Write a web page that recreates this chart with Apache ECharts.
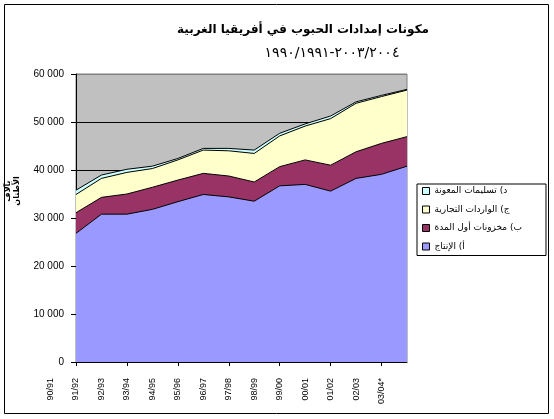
<!DOCTYPE html>
<html>
<head>
<meta charset="utf-8">
<script src="https://cdn.jsdelivr.net/npm/echarts@6/dist/echarts.min.js"></script>
<style>
    html, body { margin: 0; padding: 0; background: #fff; }
    #chart-container { width: 554px; height: 419px; }
</style>
</head>
<body>
<div id="chart-container"></div>
<script>
// seasons, the label row is one step to the left of the data, as in the original sheet
var seasons = ['90/91', '91/92', '92/93', '93/94', '94/95', '95/96', '96/97',
    '97/98', '98/99', '99/00', '00/01', '01/02', '02/03', '03/04*'];
var labelRow = seasons.concat(['']);

// thousand tonnes
var production = [26800, 30800, 30800, 31800, 33400, 34900, 34400, 33500, 36700, 37000, 35600, 38250, 39100, 40800];
var openingStocks = [4300, 3500, 4200, 4600, 4500, 4400, 4350, 4000, 4000, 5100, 5400, 5550, 6450, 6150];
var commercialImports = [3800, 3950, 4500, 3900, 4200, 4850, 5250, 5950, 6400, 7050, 9700, 10100, 9750, 9700];
var foodAid = [900, 700, 650, 500, 300, 350, 500, 700, 550, 450, 550, 300, 250, 150];

var names = ['أ) الإنتاج', 'ب) مخزونات أول المدة', 'ج) الواردات التجارية', 'د) تسليمات المعونة'];
var colors = ['#9999FF', '#993366', '#FFFFCC', '#CCFFFF'];
var values = [production, openingStocks, commercialImports, foodAid];

var dom = document.getElementById('chart-container');
var myChart = echarts.init(dom, null, { renderer: 'canvas' });

var series = values.map(function (v, i) {
    return {
        name: names[i],
        type: 'line',
        stack: 'total',
        data: v,
        showSymbol: false,
        symbol: 'none',
        color: colors[i],
        itemStyle: { color: colors[i] },
        lineStyle: { color: '#000', width: 1 },
        areaStyle: { color: colors[i], opacity: 1 },
        animation: false
    };
});

var option = {
    animation: false,
    title: [
        {
            text: 'مكونات إمدادات الحبوب في أفريقيا الغربية',
            left: 298,
            top: 19,
            textAlign: 'center',
            textStyle: { fontFamily: 'DejaVu Sans', fontSize: 12, fontWeight: 'bold', color: '#000' }
        },
        {
            // keep the periods in left-to-right order
            text: '\u202D١٩٩٠/١٩٩١-٢٠٠٣/٢٠٠٤\u202C',
            left: 327,
            top: 41,
            textAlign: 'center',
            textStyle: { fontFamily: 'DejaVu Sans', fontSize: 14, fontWeight: 'normal', color: '#000' }
        }
    ],
    legend: {
        orient: 'vertical',
        left: 417,
        top: 184,
        data: names.slice().reverse(),
        icon: 'rect',
        itemWidth: 7,
        itemHeight: 7,
        itemGap: 6.5,
        itemStyle: { borderColor: '#000', borderWidth: 1 },
        padding: [1, 24, 3, 5],
        borderColor: '#000',
        borderWidth: 1,
        textStyle: { fontFamily: 'DejaVu Sans', fontSize: 9, lineHeight: 12, color: '#000' }
    },
    grid: [
        { left: 76, right: 147, top: 74, bottom: 57, show: true, backgroundColor: '#C0C0C0', borderColor: '#808080', borderWidth: 1 },
        { left: 50.5, right: 147, top: 74, bottom: 57, show: false }
    ],
    xAxis: [
        {
            type: 'category',
            gridIndex: 0,
            data: seasons,
            boundaryGap: false,
            axisLine: { lineStyle: { color: '#000', width: 1 } },
            axisTick: { show: true, length: 4, lineStyle: { color: '#000' } },
            axisLabel: { show: false }
        },
        {
            type: 'category',
            gridIndex: 1,
            data: labelRow,
            boundaryGap: false,
            axisLine: { show: false },
            axisTick: { show: false },
            axisLabel: {
                interval: 0,
                rotate: 90,
                margin: 16,
                fontFamily: 'Liberation Sans',
                fontSize: 9,
                color: '#000'
            }
        }
    ],
    yAxis: [
        {
            type: 'value',
            gridIndex: 0,
            min: 0,
            max: 60000,
            interval: 10000,
            axisLine: { show: true, lineStyle: { color: '#000', width: 1 } },
            axisTick: { show: true, length: 5, lineStyle: { color: '#000' } },
            axisLabel: {
                margin: 12,
                fontFamily: 'Liberation Sans',
                fontSize: 10,
                color: '#000',
                formatter: function (v) { return v === 0 ? '0' : (v / 1000) + ' 000'; }
            },
            splitLine: {
                show: true,
                lineStyle: { color: ['#000', '#000', '#000', '#000', '#000', '#000', '#808080'], width: 1 }
            }
        },
        { type: 'value', gridIndex: 1, show: false }
    ],
    graphic: [
        {
            type: 'rect',
            shape: { x: 4.5, y: 4.5, width: 544, height: 409 },
            style: { fill: 'none', stroke: '#000', lineWidth: 1 },
            silent: true
        },
        {
            type: 'text',
            x: 12,
            y: 191,
            rotation: Math.PI / 2,
            style: {
                text: 'بآلاف\nالأطنان',
                font: 'bold 8px "DejaVu Sans"',
                fill: '#000',
                align: 'center',
                verticalAlign: 'middle',
                lineHeight: 9
            }
        }
    ],
    series: series
};

if (option && typeof option === 'object') {
    myChart.setOption(option);
}

window.addEventListener('resize', myChart.resize);
</script>
</body>
</html>
